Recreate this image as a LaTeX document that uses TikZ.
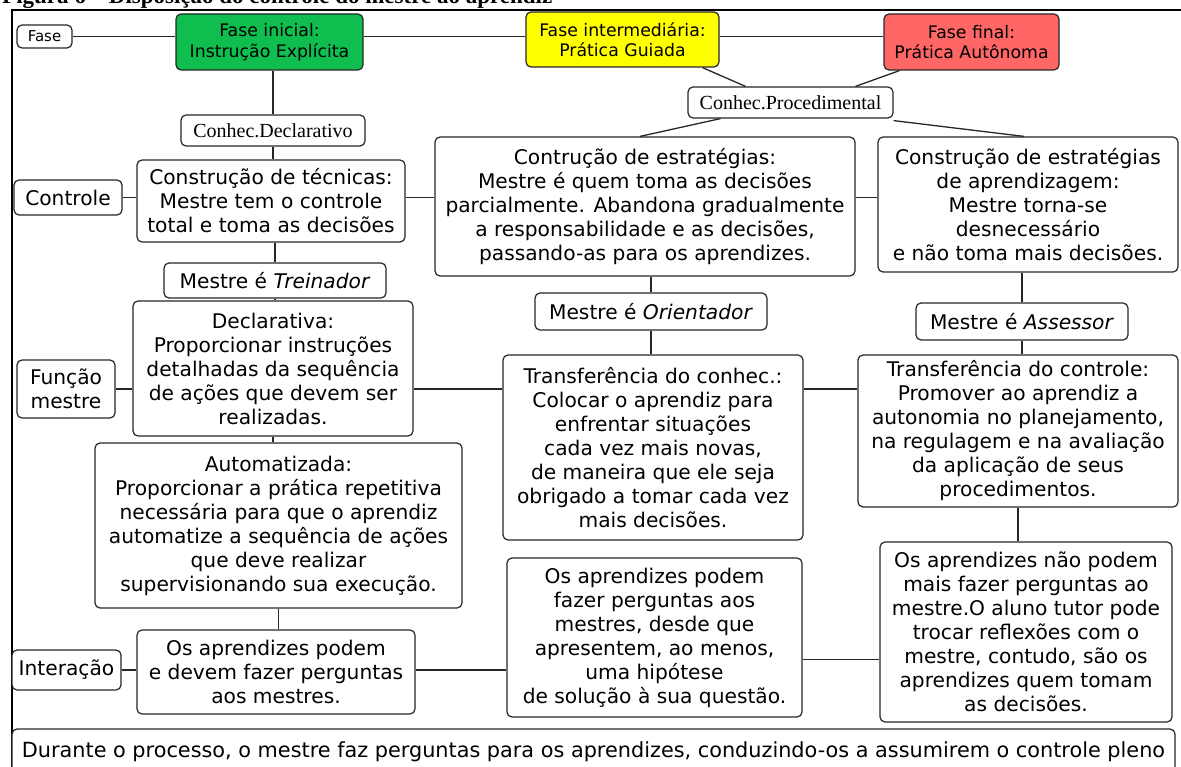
\documentclass[tikz,border=0pt]{standalone}
\usepackage{fontspec}
\setmainfont{DejaVu Sans}
\newfontfamily\timesf{Liberation Serif}
\usetikzlibrary{calc}
\definecolor{gfill}{RGB}{16,190,80}
\definecolor{yfill}{RGB}{255,255,0}
\definecolor{rfill}{RGB}{255,102,102}
\begin{document}
\begin{tikzpicture}[x=1pt,y=-1pt,
  box/.style={draw=black!85, line width=1.2pt, rounded corners=5pt, align=center, inner sep=0pt, fill=white, font=\fontsize{20.2}{24}\selectfont},
  phase/.style={box, font=\fontsize{17.3}{20.5}\selectfont},
  small/.style={box, font=\fontsize{15}{18}\selectfont},
  tbox/.style={box, font=\timesf\fontsize{20}{24}\selectfont},
  conn/.style={line width=1.3pt, draw=black!85}]
\path[use as bounding box] (0,0) rectangle (1181,767);
\clip (0,0) rectangle (1181,767);
\node[anchor=base west, inner sep=0pt, font=\timesf\bfseries\fontsize{23}{23}\selectfont] (title) at (2,3.5) {Figura 6 – Disposição do controle do mestre ao aprendiz};
\draw[line width=2pt] (1195,10) -- (12,10) -- (12,790);
% top row
\node[small, minimum width=55pt, minimum height=23pt] (fase) at (44.5,36.5) {Fase};
\node[phase, fill=gfill, minimum width=187pt, minimum height=56pt] (green) at (269.5,42) {Fase inicial:\\Instrução Explícita};
\node[phase, fill=yfill, minimum width=193pt, minimum height=55pt] (yellow) at (622.5,39.5) {Fase intermediária:\\Prática Guiada};
\node[phase, fill=rfill, minimum width=175pt, minimum height=56pt] (red) at (971.5,42) {Fase final:\\Prática Autônoma};
\node[tbox, minimum width=184pt, minimum height=31pt] (decl) at (273,130.5) {Conhec.Declarativo};
\node[tbox, minimum width=205pt, minimum height=31pt] (proc) at (790.5,102.5) {Conhec.Procedimental};
% control row
\node[box, minimum width=108pt, minimum height=35pt] (controle) at (68,197.5) {Controle};
\node[box, minimum width=268pt, minimum height=82pt] (tecn) at (271,201) {Construção de técnicas:\\Mestre tem o controle\\total e toma as decisões};
\node[box, minimum width=420pt, minimum height=139pt] (estr) at (645,206.5) {Contrução de estratégias:\\Mestre é quem toma as decisões\\parcialmente. Abandona gradualmente\\a responsabilidade e as decisões,\\passando-as para os aprendizes.};
\node[box, minimum width=300pt, minimum height=135pt] (aprz) at (1028,204.5) {Construção de estratégias\\de aprendizagem:\\Mestre torna-se\\desnecessário\\e não toma mais decisões.};
% roles
\node[box, minimum width=222pt, minimum height=35pt] (trein) at (275,280.5) {Mestre é \textit{Treinador}};
\node[box, minimum width=232pt, minimum height=37pt] (orient) at (651,311.5) {Mestre é \textit{Orientador}};
\node[box, minimum width=212pt, minimum height=37pt] (assess) at (1022,321.5) {Mestre é \textit{Assessor}};
% function row
\node[box, minimum width=98pt, minimum height=58pt] (funcao) at (66,389) {Função\\mestre};
\node[box, minimum width=280pt, minimum height=135pt] (declv) at (273,368.5) {Declarativa:\\Proporcionar instruções\\detalhadas da sequência\\de ações que devem ser\\realizadas.};
\node[box, minimum width=300pt, minimum height=185pt] (tconh) at (653,447.5) {Transferência do conhec.:\\Colocar o aprendiz para\\enfrentar situações\\cada vez mais novas,\\de maneira que ele seja\\obrigado a tomar cada vez\\mais decisões.};
\node[box, minimum width=320pt, minimum height=152pt] (tcont) at (1018,431) {Transferência do controle:\\Promover ao aprendiz a\\autonomia no planejamento,\\na regulagem e na avaliação\\da aplicação de seus\\procedimentos.};
\node[box, minimum width=367pt, minimum height=165pt] (auto) at (278.5,525.5) {Automatizada:\\Proporcionar a prática repetitiva\\necessária para que o aprendiz\\automatize a sequência de ações\\que deve realizar\\supervisionando sua execução.};
% interaction row
\node[box, minimum width=109pt, minimum height=40pt] (inter) at (66.5,670) {Interação};
\node[box, minimum width=278pt, minimum height=84pt] (ap1) at (276,672) {Os aprendizes podem\\e devem fazer perguntas\\aos mestres.};
\node[box, minimum width=295pt, minimum height=159pt] (ap2) at (654.5,637.5) {Os aprendizes podem\\fazer perguntas aos\\mestres, desde que\\apresentem, ao menos,\\uma hipótese\\de solução à sua questão.};
\node[box, minimum width=292pt, minimum height=180pt] (ap3) at (1026,632) {Os aprendizes não podem\\mais fazer perguntas ao\\mestre.O aluno tutor pode\\trocar reflexões com o\\mestre, contudo, são os\\aprendizes quem tomam\\as decisões.};
\node[box, minimum width=1163pt, minimum height=44pt, text depth=0pt, font=\fontsize{20.8}{24}\selectfont] (dur) at (593.5,751) {\raisebox{2pt}{Durante o processo, o mestre faz perguntas para os aprendizes, conduzindo-os a assumirem o controle pleno}};
% connectors
\draw[conn] (fase.east) -- (fase.east -| green.west);
\draw[conn] (green.east |- fase.east) -- (yellow.west |- fase.east);
\draw[conn] (yellow.east |- fase.east) -- (red.west |- fase.east);
\draw[conn] (decl.north |- green.south) -- (decl.north);
\draw[conn] ([xshift=80pt]yellow.south) -- ([xshift=-45pt]proc.north);
\draw[conn] ([xshift=-72pt]red.south) -- ([xshift=65pt]proc.north);
\draw[conn] ([xshift=-70pt]proc.south) -- ([xshift=-5pt]estr.north);
\draw[conn] ([yshift=-2pt]proc.south east) -- ([xshift=-4pt]aprz.north);
\draw[conn] (decl.south) -- (decl.south |- tecn.north);
\draw[conn] (controle.east) -- (controle.east -| tecn.west);
\draw[conn] (tecn.east |- controle.east) -- (estr.west |- controle.east);
\draw[conn] (estr.east |- controle.east) -- (aprz.west |- controle.east);
\draw[conn] (trein.north |- tecn.south) -- (trein.north);
\draw[conn] (orient.north |- estr.south) -- (orient.north);
\draw[conn] (assess.north |- aprz.south) -- (assess.north);
\draw[conn] (trein.south) -- (trein.south |- declv.north);
\draw[conn] (orient.south) -- (orient.south |- tconh.north);
\draw[conn] (assess.south) -- (assess.south |- tcont.north);
\draw[conn] (funcao.east) -- (funcao.east -| declv.west);
\draw[conn] (declv.east |- funcao.east) -- (tconh.west |- funcao.east);
\draw[conn] (tconh.east |- funcao.east) -- (tcont.west |- funcao.east);
\draw[conn] (declv.south) -- (declv.south |- auto.north);
\draw[conn] (tcont.south) -- (tcont.south |- ap3.north);
\draw[conn] (auto.south) -- (auto.south |- ap1.north);
\draw[conn] (inter.east) -- (inter.east -| ap1.west);
\draw[conn] (ap1.east |- inter.east) -- (ap2.west |- inter.east);
\draw[conn] ([yshift=-22pt]ap2.east) -- ([yshift=-22pt]ap2.east -| ap3.west);
\end{tikzpicture}
\end{document}
